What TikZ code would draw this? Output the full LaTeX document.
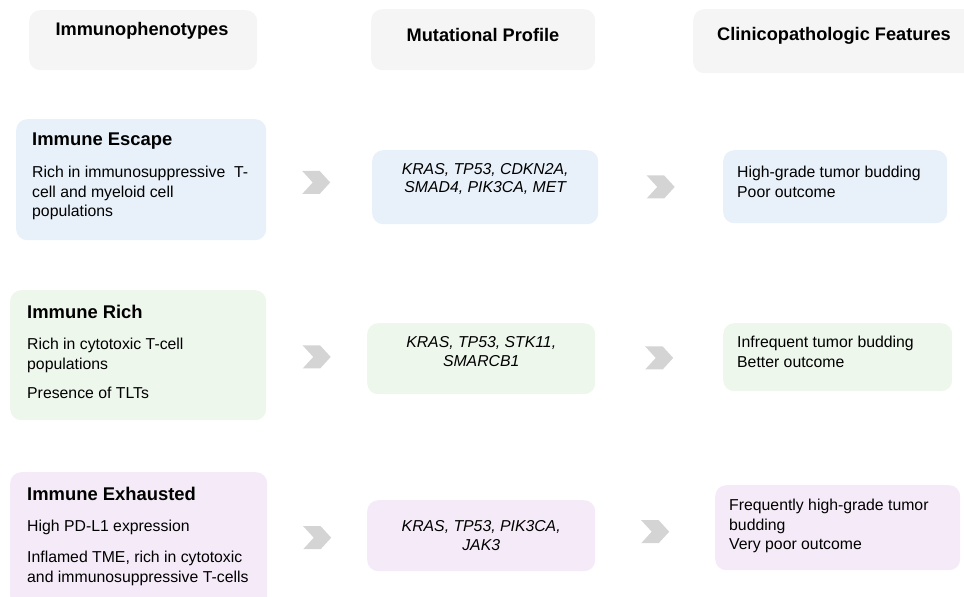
\documentclass[tikz,border=0pt]{standalone}
\usepackage{fontspec}
\setmainfont{Liberation Sans}
\usetikzlibrary{shapes.symbols,calc}
\definecolor{hdrfill}{HTML}{F5F5F5}
\definecolor{bluefill}{HTML}{E8F0F9}
\definecolor{greenfill}{HTML}{EEF7EC}
\definecolor{purplefill}{HTML}{F5EBF8}
\definecolor{chevgray}{HTML}{D4D4D4}
\begin{document}
\begin{tikzpicture}[x=1pt,y=-1pt,
  panel/.style={draw=none,rounded corners=11pt,anchor=north west,inner sep=0pt},
  hdrtext/.style={font=\fontsize{18.2}{21}\selectfont\bfseries,inner sep=0pt},
  ttl/.style={font=\fontsize{18.4}{21}\selectfont\bfseries,anchor=north west,inner sep=0pt},
  body/.style={font=\fontsize{15.8}{19.5}\selectfont,anchor=north west,inner sep=0pt,align=left},
  genes/.style={font=\fontsize{15.8}{18.5}\selectfont\itshape,inner sep=0pt,align=center},
  chev/.style={shape=signal,signal from=west,signal to=east,signal pointer angle=95,fill=chevgray,draw=none,minimum width=28pt,minimum height=23pt,inner sep=0pt}]
\useasboundingbox (0,0) rectangle (964,597);
% headers
\node[panel,fill=hdrfill,minimum width=228pt,minimum height=60pt] (h1) at (29,10) {};
\node[panel,fill=hdrfill,minimum width=224pt,minimum height=61pt] (h2) at (371,9) {};
\node[panel,fill=hdrfill,minimum width=285pt,minimum height=64pt] (h3) at (693,9) {};
\node[hdrtext] (h1t) at (142,31) {Immunophenotypes};
\node[hdrtext] (h2t) at (483,35) {Mutational Profile};
\node[hdrtext] (h3t) at (834,36) {Clinicopathologic Features};
% row 1
\node[panel,fill=bluefill,minimum width=250pt,minimum height=121pt] (e1) at (16,119) {};
\node[panel,fill=bluefill,minimum width=226pt,minimum height=74pt] (m1) at (372,150) {};
\node[panel,fill=bluefill,minimum width=224pt,minimum height=73pt] (c1) at (723,150) {};
\node[ttl] (e1t) at (32,133) {Immune Escape};
\node[body] (e1b) at (32,166) {Rich in immunosuppressive\ \ T-\\cell and myeloid cell\\populations};
\node[genes,yshift=8pt] (m1t) at (m1.center) {KRAS, TP53, CDKN2A,\\SMAD4, PIK3CA, MET};
\node[body] (c1t) at (737,166) {High-grade tumor budding\\Poor outcome};
% row 2
\node[panel,fill=greenfill,minimum width=256pt,minimum height=130pt] (e2) at (10,290) {};
\node[panel,fill=greenfill,minimum width=228pt,minimum height=71pt] (m2) at (367,323) {};
\node[panel,fill=greenfill,minimum width=229pt,minimum height=68pt] (c2) at (723,323) {};
\node[ttl] (e2t) at (27,305) {Immune Rich};
\node[body] (e2b) at (27,338) {Rich in cytotoxic T-cell\\populations};
\node[body] (e2c) at (27,387) {Presence of TLTs};
\node[genes,yshift=7pt] (m2t) at (m2.center) {KRAS, TP53, STK11,\\SMARCB1};
\node[body] (c2t) at (737,336) {Infrequent tumor budding\\Better outcome};
% row 3
\node[panel,fill=purplefill,minimum width=257pt,minimum height=135pt] (e3) at (10,472) {};
\node[panel,fill=purplefill,minimum width=228pt,minimum height=71pt] (m3) at (367,500) {};
\node[panel,fill=purplefill,minimum width=245pt,minimum height=85pt] (c3) at (715,485) {};
\node[ttl] (e3t) at (27,487) {Immune Exhausted};
\node[body] (e3b) at (27,520) {High PD-L1 expression};
\node[body] (e3c) at (27,551) {Inflamed TME, rich in cytotoxic\\and immunosuppressive T-cells};
\node[genes] (m3t) at (m3.center) {KRAS, TP53, PIK3CA,\\JAK3};
\node[body] (c3t) at (729,499) {Frequently high-grade tumor\\budding\\Very poor outcome};
% chevrons
\node[chev,xshift=-3pt,yshift=1pt] (a1) at ($(e1.east)!0.5!(m1.west)$) {};
\node[chev] (b1) at ($(m1.east)!0.5!(c1.west)$) {};
\node[chev] (a2) at ($(e2.east)!0.5!(m2.west)$) {};
\node[chev] (b2) at ($(m2.east)!0.5!(c2.west)$) {};
\node[chev] (a3) at ($(e3.east)!0.5!(m3.west)$) {};
\node[chev] (b3) at ($(m3.east)!0.5!(c3.west)$) {};
\end{tikzpicture}
\end{document}
